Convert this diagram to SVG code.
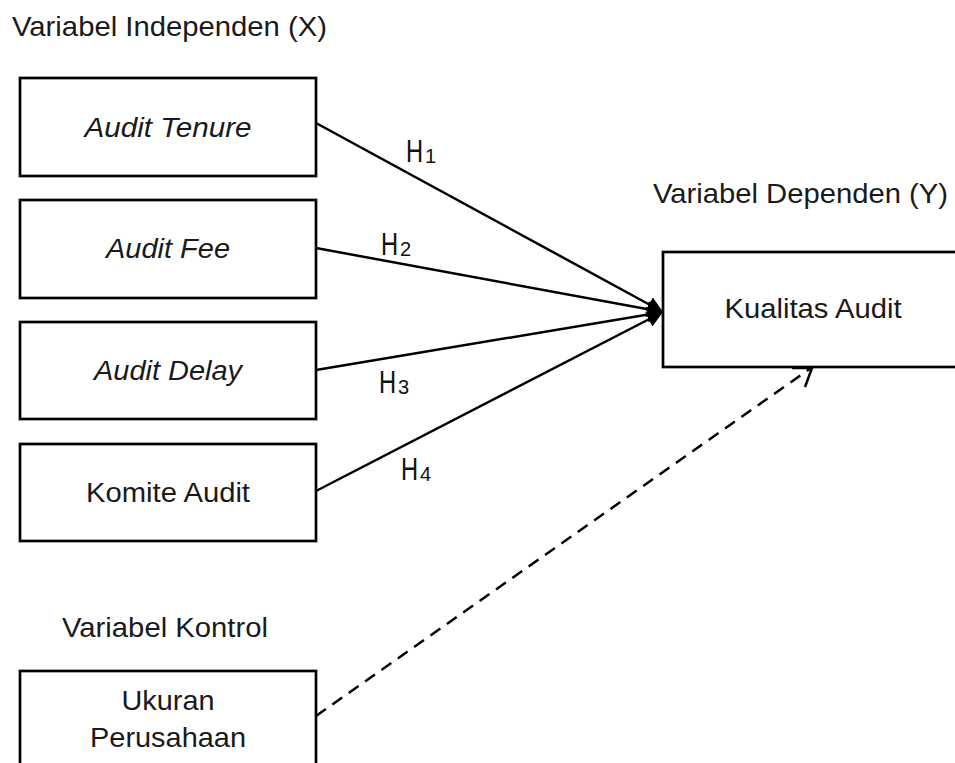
<svg xmlns="http://www.w3.org/2000/svg" width="955" height="763" viewBox="0 0 955 763">
<style>
  .box{fill:#fff;stroke:#000;stroke-width:2.7}
  .t{font-family:"Liberation Sans",Arial,sans-serif;font-size:27.5px;fill:#1a1a1a}
  .c{text-anchor:middle}
  .i{font-style:italic}
  .h{font-family:"Liberation Sans",Arial,sans-serif;font-size:32px;fill:#111}
  .s{font-family:"Liberation Sans",Arial,sans-serif;font-size:20px;fill:#111}
  .ln{stroke:#000;stroke-width:2.5;fill:none}
</style>
<defs>
  <marker id="ah" markerUnits="userSpaceOnUse" markerWidth="18" markerHeight="16" refX="16" refY="8" orient="auto">
    <path d="M0,0 L16,8 L0,16 z" fill="#000"/>
  </marker>
</defs>
<rect width="955" height="763" fill="#fff"/>
<text class="t" x="12" y="36" textLength="315" lengthAdjust="spacingAndGlyphs">Variabel Independen (X)</text>
<text class="t" x="653" y="203" textLength="295" lengthAdjust="spacingAndGlyphs">Variabel Dependen (Y)</text>
<text class="t" x="62" y="637" textLength="206" lengthAdjust="spacingAndGlyphs">Variabel Kontrol</text>

<g id="connectors">
  <line class="ln" x1="316" y1="123" x2="663" y2="312" marker-end="url(#ah)"/>
  <line class="ln" x1="316" y1="248" x2="663" y2="312" marker-end="url(#ah)"/>
  <line class="ln" x1="316" y1="370" x2="663" y2="312" marker-end="url(#ah)"/>
  <line class="ln" x1="316" y1="491" x2="663" y2="312" marker-end="url(#ah)"/>
  <line class="ln" x1="316" y1="716" x2="811" y2="368" stroke-dasharray="12 8"/>
  <path class="ln" d="M792,368 L812,368 L805,387"/>
  <text class="h" transform="translate(406,162) scale(0.74,1)">H</text>
  <text class="s" x="425" y="163">1</text>
  <text class="h" transform="translate(381,255) scale(0.74,1)">H</text>
  <text class="s" x="400" y="256">2</text>
  <text class="h" transform="translate(379,393) scale(0.74,1)">H</text>
  <text class="s" x="398" y="394">3</text>
  <text class="h" transform="translate(401,480) scale(0.74,1)">H</text>
  <text class="s" x="420" y="481">4</text>
</g>

<g id="audit-tenure">
  <rect class="box" x="20" y="78" width="296" height="98"/>
  <text class="t c i" x="168" y="137" textLength="167" lengthAdjust="spacingAndGlyphs">Audit Tenure</text>
</g>
<g id="audit-fee">
  <rect class="box" x="20" y="200" width="296" height="98"/>
  <text class="t c i" x="168" y="258" textLength="124" lengthAdjust="spacingAndGlyphs">Audit Fee</text>
</g>
<g id="audit-delay">
  <rect class="box" x="20" y="322" width="296" height="97"/>
  <text class="t c i" x="168" y="380" textLength="148" lengthAdjust="spacingAndGlyphs">Audit Delay</text>
</g>
<g id="komite-audit">
  <rect class="box" x="20" y="444" width="296" height="97"/>
  <text class="t c" x="168" y="502" textLength="164" lengthAdjust="spacingAndGlyphs">Komite Audit</text>
</g>
<g id="kualitas-audit">
  <rect class="box" x="663" y="252" width="300" height="115"/>
  <text class="t c" x="813" y="318" textLength="177" lengthAdjust="spacingAndGlyphs">Kualitas Audit</text>
</g>
<g id="ukuran-perusahaan">
  <rect class="box" x="20" y="671" width="296" height="110"/>
  <text class="t c" x="168" y="710" textLength="93" lengthAdjust="spacingAndGlyphs">Ukuran</text>
  <text class="t c" x="168" y="747" textLength="156" lengthAdjust="spacingAndGlyphs">Perusahaan</text>
</g>
</svg>
